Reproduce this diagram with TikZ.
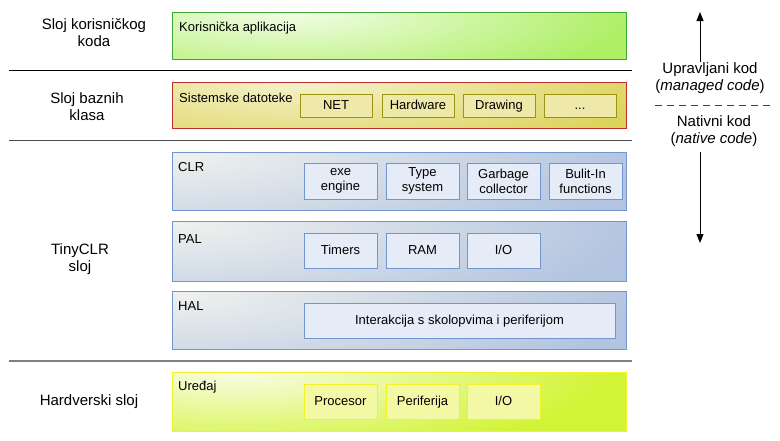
\documentclass[tikz,border=0pt]{standalone}
\usepackage{fontspec}
\setmainfont{Liberation Sans}
\usetikzlibrary{arrows.meta}
\definecolor{grB}{HTML}{3FA535}
\definecolor{grL}{HTML}{F2FDE6}
\definecolor{grD}{HTML}{AEEF66}
\definecolor{rdB}{HTML}{B8312F}
\definecolor{ylL}{HTML}{F5F2CC}
\definecolor{ylD}{HTML}{DBD257}
\definecolor{olB}{HTML}{9C9410}
\definecolor{olF}{HTML}{EEE9A8}
\definecolor{blB}{HTML}{7196D0}
\definecolor{blL}{HTML}{F0F2EE}
\definecolor{blD}{HTML}{B3C4E0}
\definecolor{blF}{HTML}{E5ECF7}
\definecolor{hwB}{HTML}{F2F22A}
\definecolor{hwL}{HTML}{FAFCE6}
\definecolor{hwD}{HTML}{D2F436}
\definecolor{hwF}{HTML}{F3F8A5}
% #1 x0, #2 y0, #3 height, #4 light, #5 dark, #6 centre x offset, #7 rx, #8 ry
\newcommand\LayerBg[8]{%
  \begin{scope}
    \clip (#1,#2) rectangle ({#1+454},{#2+#3});
    \fill[#5] (#1,#2) rectangle ({#1+454},{#2+#3});
    \shade[inner color=#4, outer color=#5] ({#1+#6},#2) ellipse ({#7} and {#8});
  \end{scope}}
\tikzset{
  x=1pt, y=-1pt,
  layer/.style={draw, line width=1pt, anchor=north west, inner sep=0pt, outer sep=0pt,
    minimum width=454pt},
  inbox/.style={draw, line width=1pt, anchor=north west, inner sep=0pt, outer sep=0pt,
    align=center, font=\fontsize{13}{15}\selectfont},
  one/.style={text height=9.4pt, text depth=0.6pt},
  boxlbl/.style={anchor=base west, inner sep=0pt, font=\fontsize{13}{15}\selectfont},
  sidelbl/.style={align=center, inner sep=0pt, font=\fontsize{15}{17}\selectfont},
  sep/.style={line width=1pt},
  arr/.style={line width=1pt, -{Triangle[length=9pt,width=7pt]}}
}
\begin{document}
\begin{tikzpicture}
\useasboundingbox[fill=white] (0,0) rectangle (780,440);
% separators
\coordinate (s1a) at (9,70);  \coordinate (s1b) at (632,70);
\coordinate (s2a) at (9,140); \coordinate (s2b) at (632,140);
\coordinate (s3a) at (9,361); \coordinate (s3b) at (632,361);
\draw[sep, black] (s1a) -- (s1b);
\draw[sep, black!70] (s2a) -- (s2b);
\draw[line width=2pt, black!50] (s3a) -- (s3b);

% left labels
\node[sidelbl] (l1) at (94,33) {Sloj korisničkog\\koda};
\node[sidelbl] (l2) at (87,107) {Sloj baznih\\klasa};
\node[sidelbl] (l3) at (80,259) {TinyCLR\\sloj};
\node[sidelbl] (l4) at (89,402) {Hardverski sloj};

% backgrounds
\LayerBg{172}{12}{47}{grL}{grD}{120}{340}{80}
\LayerBg{172}{82}{46}{ylL}{ylD}{130}{380}{80}
\LayerBg{172}{152}{58}{blL}{blD}{0}{470}{115}
\LayerBg{172}{221}{60}{blL}{blD}{0}{470}{115}
\LayerBg{172}{291}{58}{blL}{blD}{0}{470}{115}
\LayerBg{172}{372}{59}{hwL}{hwD}{65}{370}{85}

% user app
\node[layer, draw=grB, minimum height=47pt] (app) at (172,12) {};
\node[boxlbl] (appl) at (179,31) {Korisnička aplikacija};

% system files
\node[layer, draw=rdB, minimum height=46pt] (sys) at (172,82) {};
\node[boxlbl] (sysl) at (179,102) {Sistemske datoteke};
\node[inbox, one, draw=olB, fill=olF, minimum width=72pt, minimum height=23pt] (net) at (300,94) {NET};
\node[inbox, one, draw=olB, fill=olF, minimum width=72pt, minimum height=23pt] (hw) at (382,94) {Hardware};
\node[inbox, one, draw=olB, fill=olF, minimum width=72pt, minimum height=23pt] (dr) at (463,94) {Drawing};
\node[inbox, one, draw=olB, fill=olF, minimum width=72pt, minimum height=23pt] (dots) at (544,94) {...};

% CLR
\node[layer, draw=blB, minimum height=58pt] (clr) at (172,152) {};
\node[boxlbl] (clrl) at (178,171) {CLR};
\node[inbox, draw=blB, fill=blF, minimum width=73pt, minimum height=36pt] (exe) at (304,163) {exe\\engine};
\node[inbox, draw=blB, fill=blF, minimum width=73pt, minimum height=36pt] (ts) at (386,163) {Type\\system};
\node[inbox, draw=blB, fill=blF, minimum width=73pt, minimum height=36pt] (gc) at (467,163) {Garbage\\collector};
\node[inbox, draw=blB, fill=blF, minimum width=73pt, minimum height=36pt] (bi) at (549,163) {Bulit-In\\functions};

% PAL
\node[layer, draw=blB, minimum height=60pt] (pal) at (172,221) {};
\node[boxlbl] (pall) at (178,243) {PAL};
\node[inbox, one, draw=blB, fill=blF, minimum width=73pt, minimum height=35pt] (tim) at (304,233) {Timers};
\node[inbox, one, draw=blB, fill=blF, minimum width=73pt, minimum height=35pt] (ram) at (386,233) {RAM};
\node[inbox, one, draw=blB, fill=blF, minimum width=73pt, minimum height=35pt] (pio) at (467,233) {I/O};

% HAL
\node[layer, draw=blB, minimum height=58pt] (hal) at (172,291) {};
\node[boxlbl] (hall) at (178,310) {HAL};
\node[inbox, one, draw=blB, fill=blF, minimum width=311pt, minimum height=35pt] (inter) at (304,303) {Interakcija s skolopvima i periferijom};

% device
\node[layer, draw=hwB, minimum height=59pt] (dev) at (172,372) {};
\node[boxlbl] (devl) at (178,390) {Uređaj};
\node[inbox, one, draw=hwB, fill=hwF, minimum width=73pt, minimum height=35pt] (cpu) at (304,384) {Procesor};
\node[inbox, one, draw=hwB, fill=hwF, minimum width=73pt, minimum height=35pt] (per) at (386,384) {Periferija};
\node[inbox, one, draw=hwB, fill=hwF, minimum width=73pt, minimum height=35pt] (hio) at (467,384) {I/O};

% right side
\node[sidelbl] (man) at (710,78) {Upravljani kod\\(\textit{managed code})};
\node[sidelbl] (nat) at (714,131) {Nativni kod\\(\textit{native code})};
\coordinate (upS) at (700,62);
\coordinate (upE) at (700,12);
\coordinate (dnS) at (700,152);
\coordinate (dnE) at (700,243);
\draw[arr] (upS) -- (upE);
\draw[arr] (dnS) -- (dnE);
\coordinate (dA) at (655,105);
\coordinate (dB) at (770,105);
\draw[line width=1pt, black!75, dash pattern=on 7pt off 5pt] (dA) -- (dB);
\end{tikzpicture}
\end{document}
